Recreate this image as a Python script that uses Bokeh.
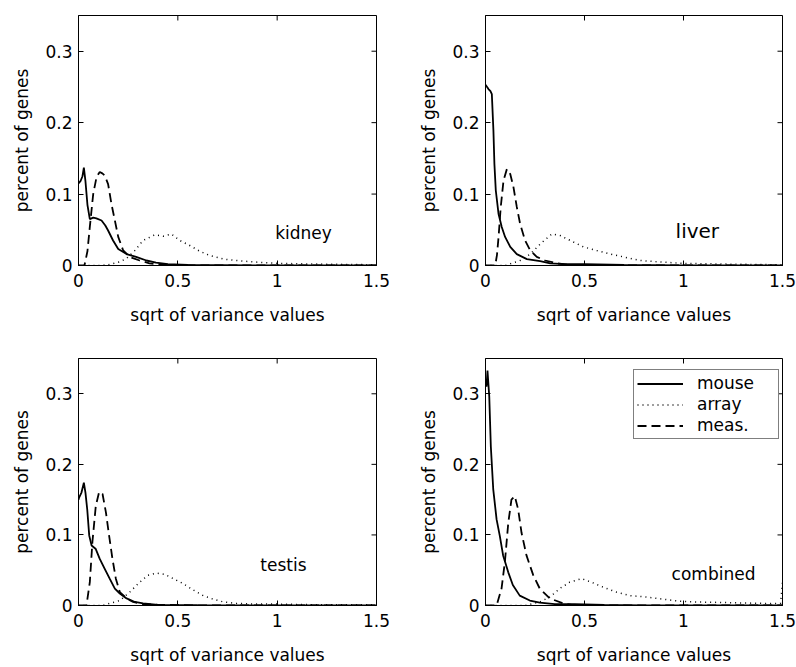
import math
from bokeh.plotting import figure
from bokeh.models import (Range1d, FixedTicker, CustomJSTickFormatter, Legend, LegendItem)
from bokeh.layouts import column, row
from bokeh.core.properties import value
from bokeh.embed import file_html
from bokeh.resources import INLINE

FONT = "DejaVu Sans"
FS = "17px"

x_ticks = [0, 0.5, 1, 1.5]
y_ticks = [0, 0.1, 0.2, 0.3]
x_max = 1.5
y_max = 0.35
x_label = "sqrt of variance values"
y_label = "percent of genes"
series_names = ["mouse", "array", "meas."]

# ---- kidney ----
kidney_mouse_x = [0, 0.01, 0.02, 0.027, 0.035, 0.045, 0.057, 0.074, 0.09, 0.116, 0.135, 0.149,
                  0.174, 0.2, 0.242, 0.29, 0.342, 0.39, 0.45, 0.55, 0.7, 0.9, 1.2, 1.5]
kidney_mouse_y = [0.115, 0.118, 0.125, 0.137, 0.118, 0.085, 0.065, 0.067, 0.066, 0.063, 0.056, 0.049,
                  0.035, 0.023, 0.016, 0.012, 0.007, 0.004, 0.002, 0.001, 0.0005, 0, 0, 0]
kidney_array_x = [0, 0.1, 0.15, 0.208, 0.242, 0.284, 0.325, 0.384, 0.426, 0.468, 0.51, 0.56,
                  0.61, 0.66, 0.73, 0.795, 0.88, 1.0, 1.2, 1.5]
kidney_array_y = [0, 0, 0.001, 0.005, 0.010, 0.021, 0.035, 0.043, 0.041, 0.044, 0.035, 0.028,
                  0.020, 0.014, 0.009, 0.007, 0.005, 0.003, 0.002, 0.001]
kidney_meas_x = [0, 0.03, 0.045, 0.057, 0.074, 0.091, 0.107, 0.12, 0.132, 0.149, 0.166, 0.183,
                 0.2, 0.225, 0.258, 0.308, 0.357, 0.42, 0.6, 1.0, 1.5]
kidney_meas_y = [0, 0, 0.02, 0.054, 0.100, 0.124, 0.131, 0.129, 0.126, 0.114, 0.086, 0.063,
                 0.040, 0.021, 0.012, 0.007, 0.003, 0.001, 0, 0, 0]

# ---- liver ----
liver_mouse_x = [0, 0.008, 0.015, 0.025, 0.032, 0.04, 0.045, 0.052, 0.066, 0.082, 0.099, 0.125,
                 0.158, 0.209, 0.276, 0.327, 0.4, 0.5, 0.7, 1.0, 1.5]
liver_mouse_y = [0.253, 0.25, 0.247, 0.244, 0.240, 0.189, 0.142, 0.105, 0.072, 0.054, 0.040, 0.026,
                 0.016, 0.009, 0.006, 0.003, 0.002, 0.002, 0.001, 0, 0]
liver_array_x = [0, 0.1, 0.175, 0.226, 0.276, 0.335, 0.377, 0.428, 0.495, 0.562, 0.63, 0.697,
                 0.78, 0.88, 1.0, 1.2, 1.5]
liver_array_y = [0, 0, 0.007, 0.016, 0.030, 0.044, 0.042, 0.035, 0.026, 0.021, 0.016, 0.012,
                 0.007, 0.005, 0.003, 0.002, 0.001]
liver_meas_x = [0, 0.049, 0.058, 0.066, 0.077, 0.091, 0.108, 0.125, 0.141, 0.158, 0.175, 0.2,
                0.226, 0.259, 0.301, 0.36, 0.42, 0.6, 1.0, 1.5]
liver_meas_y = [0, 0, 0.015, 0.040, 0.082, 0.119, 0.135, 0.128, 0.110, 0.082, 0.058, 0.035,
                0.021, 0.012, 0.007, 0.003, 0.001, 0, 0, 0]

# ---- testis ----
testis_mouse_x = [0, 0.003, 0.015, 0.027, 0.035, 0.044, 0.054, 0.066, 0.087, 0.107, 0.132, 0.157,
                  0.183, 0.208, 0.242, 0.284, 0.325, 0.4, 0.6, 1.0, 1.5]
testis_mouse_y = [0.15, 0.153, 0.16, 0.174, 0.16, 0.136, 0.099, 0.085, 0.080, 0.066, 0.052, 0.038,
                  0.024, 0.017, 0.010, 0.005, 0.003, 0.001, 0.0005, 0, 0]
testis_array_x = [0, 0.12, 0.208, 0.258, 0.308, 0.35, 0.393, 0.435, 0.477, 0.527, 0.577, 0.628,
                  0.678, 0.73, 0.795, 0.9, 1.0, 1.2, 1.5]
testis_array_y = [0, 0, 0.007, 0.019, 0.033, 0.043, 0.046, 0.044, 0.038, 0.031, 0.022, 0.014,
                  0.009, 0.005, 0.003, 0.002, 0.002, 0.001, 0.001]
testis_meas_x = [0, 0.04, 0.057, 0.07, 0.087, 0.104, 0.121, 0.138, 0.154, 0.171, 0.188, 0.208,
                 0.242, 0.275, 0.325, 0.4, 0.6, 1.0, 1.5]
testis_meas_y = [0, 0, 0.033, 0.090, 0.141, 0.161, 0.158, 0.132, 0.099, 0.066, 0.038, 0.019,
                 0.010, 0.005, 0.002, 0.001, 0, 0, 0]

# ---- combined ----
combined_mouse_x = [0.005, 0.01, 0.019, 0.027, 0.039, 0.056, 0.072, 0.089, 0.115, 0.138, 0.173,
                    0.224, 0.274, 0.35, 0.45, 0.6, 0.8, 1.0, 1.5]
combined_mouse_y = [0.31, 0.333, 0.296, 0.225, 0.165, 0.122, 0.099, 0.071, 0.047, 0.029, 0.014,
                    0.007, 0.004, 0.002, 0.002, 0.001, 0, 0, 0]
combined_array_x = [0, 0.2, 0.274, 0.325, 0.375, 0.425, 0.485, 0.535, 0.594, 0.661, 0.728, 0.813,
                    0.897, 0.981, 1.066, 1.23, 1.4, 1.49, 1.5]
combined_array_y = [0, 0, 0.005, 0.012, 0.024, 0.033, 0.038, 0.033, 0.026, 0.019, 0.014, 0.012,
                    0.009, 0.006, 0.005, 0.004, 0.003, 0.003, 0.033]
combined_meas_x = [0, 0.056, 0.081, 0.098, 0.115, 0.131, 0.148, 0.165, 0.182, 0.207, 0.241, 0.274,
                   0.325, 0.392, 0.45, 0.6, 1.0, 1.5]
combined_meas_y = [0, 0, 0.024, 0.062, 0.117, 0.150, 0.155, 0.136, 0.103, 0.071, 0.043, 0.024,
                   0.010, 0.003, 0, 0, 0, 0]

panel_names = ["kidney", "liver", "testis", "combined"]
panel_label_x = [0.99, 0.96, 0.915, 0.94]
panel_label_y = [0.046, 0.049, 0.058, 0.044]
panel_label_size = ["17px", "20px", "17px", "17px"]


def style_axis(ax, ticks, standoff):
    ax.ticker = FixedTicker(ticks=ticks)
    ax.formatter = CustomJSTickFormatter(code="return tick.toString();")
    ax.major_tick_in = 5
    ax.major_tick_out = 0
    ax.minor_tick_in = 0
    ax.minor_tick_out = 0
    ax.axis_line_color = "black"
    ax.major_tick_line_color = "black"
    ax.major_label_text_color = "black"
    ax.major_label_text_font = FONT
    ax.major_label_text_font_size = FS
    ax.major_label_standoff = standoff
    ax.axis_label_text_font = FONT
    ax.axis_label_text_font_size = FS
    ax.axis_label_text_font_style = "normal"
    ax.axis_label_text_color = "black"


def make_panel(idx, mx, my, ax_, ay_, dx, dy, left, right, top, bottom, height, legend=False):
    p = figure(width=398, height=height, x_range=Range1d(0, x_max), y_range=Range1d(0, y_max),
               output_backend="svg", toolbar_location=None,
               min_border_left=left, min_border_right=right,
               min_border_top=top, min_border_bottom=bottom)
    p.grid.visible = False
    p.outline_line_color = "black"
    p.outline_line_width = 1
    p.background_fill_color = "white"
    p.border_fill_color = "white"

    style_axis(p.xaxis[0], x_ticks, 8)
    style_axis(p.yaxis[0], y_ticks, 6)
    p.xaxis[0].axis_label = x_label
    p.yaxis[0].axis_label = y_label
    p.xaxis[0].axis_label_standoff = 15
    p.yaxis[0].axis_label_standoff = 10

    # inward tick marks on the top and right edges of the box
    p.ray(x=x_ticks, y=[y_max] * len(x_ticks), length=5, length_units="screen",
          angle=-math.pi / 2, line_color="black", line_width=1)
    p.ray(x=[x_max] * len(y_ticks), y=y_ticks, length=5, length_units="screen",
          angle=math.pi, line_color="black", line_width=1)

    r_mouse = p.line(mx, my, line_color="black", line_width=1.8)
    r_array = p.line(ax_, ay_, line_color="black", line_width=1.5, line_dash="1 4")
    r_meas = p.line(dx, dy, line_color="black", line_width=1.8, line_dash="9 5")

    p.text(x=[panel_label_x[idx]], y=[panel_label_y[idx]], text=[panel_names[idx]],
           text_font=value(FONT), text_font_size=panel_label_size[idx],
           text_color="black", text_align="left", text_baseline="middle")

    if legend:
        items = [LegendItem(label=series_names[0], renderers=[r_mouse]),
                 LegendItem(label=series_names[1], renderers=[r_array]),
                 LegendItem(label=series_names[2], renderers=[r_meas])]
        lg = Legend(items=items, location=(148, 166))
        lg.border_line_color = "black"
        lg.border_line_width = 1
        lg.background_fill_color = "white"
        lg.background_fill_alpha = 1
        lg.label_text_font = FONT
        lg.label_text_font_size = FS
        lg.label_text_color = "black"
        lg.glyph_width = 46
        lg.glyph_height = 19
        lg.label_height = 19
        lg.label_width = 78
        lg.label_standoff = 14
        lg.spacing = 1
        lg.padding = 3
        lg.margin = 0
        p.add_layout(lg, "center")
    return p


p1 = make_panel(0, kidney_mouse_x, kidney_mouse_y, kidney_array_x, kidney_array_y,
                kidney_meas_x, kidney_meas_y, 78, 22, 15, 68, 333)
p2 = make_panel(1, liver_mouse_x, liver_mouse_y, liver_array_x, liver_array_y,
                liver_meas_x, liver_meas_y, 87, 14, 15, 68, 333)
p3 = make_panel(2, testis_mouse_x, testis_mouse_y, testis_array_x, testis_array_y,
                testis_meas_x, testis_meas_y, 78, 22, 25, 60, 334)
p4 = make_panel(3, combined_mouse_x, combined_mouse_y, combined_array_x, combined_array_y,
                combined_meas_x, combined_meas_y, 87, 14, 25, 60, 334, legend=True)

layout = column(row(p1, p2, spacing=0), row(p3, p4, spacing=0), spacing=0)
open("out.html", "w").write(file_html(layout, INLINE))
